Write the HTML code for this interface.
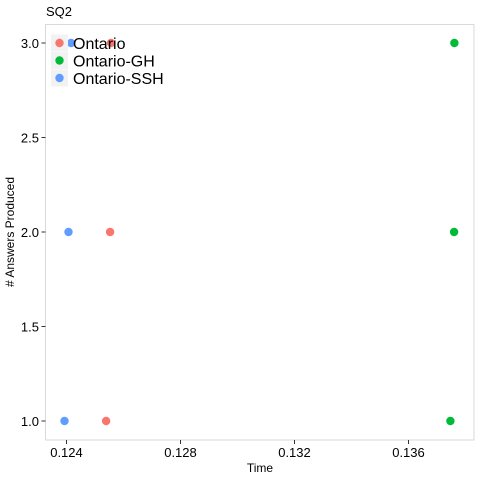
<!DOCTYPE html>
<html><head><meta charset="utf-8"><style>
body{margin:0;background:#fff;}
svg text{font-family:"Liberation Sans",sans-serif;}
</style></head><body>
<svg id="chart" width="480" height="480" xmlns="http://www.w3.org/2000/svg">
<text x="46" y="16" font-size="13" fill="#000">SQ2</text>
<rect x="45.5" y="24.5" width="428.5" height="415.5" fill="#fff" stroke="#d9d9d9"/>
<g id="axes"></g>
<g id="points"></g>
<text x="260" y="472" font-size="12" text-anchor="middle" fill="#000">Time</text>
<text transform="translate(14,232) rotate(-90)" font-size="12" text-anchor="middle" fill="#000"># Answers Produced</text>
<g id="legend"></g>
</svg>
<script>
const seriesNames=["Ontario","Ontario-GH","Ontario-SSH"];
const colors=["#F8766D","#00BA38","#619CFF"];
const xOntario=[0.12539,0.12553,0.12556];
const yOntario=[1,2,3];
const xGH=[0.13747,0.13760,0.13761];
const yGH=[1,2,3];
const xSSH=[0.12393,0.12407,0.12416];
const ySSH=[1,2,3];
const xTicks=[0.124,0.128,0.132,0.136];
const xTickLabels=["0.124","0.128","0.132","0.136"];
const yTicks=[1,1.5,2,2.5,3];
const yTickLabels=["1.0","1.5","2.0","2.5","3.0"];

const NS="http://www.w3.org/2000/svg";
function xs(v){return 66.5+(v-0.124)*28500;}
function ys(v){return 421-(v-1)*189;}
function mk(tag,attrs,parent){const e=document.createElementNS(NS,tag);for(const k in attrs)e.setAttribute(k,attrs[k]);parent.appendChild(e);return e;}
const ax=document.getElementById('axes');
xTicks.forEach((t,i)=>{
  const l=mk('line',{x1:xs(t),x2:xs(t),y1:440,y2:444,stroke:'#333'},ax);
  
  
  const tx=mk('text',{x:xs(t),y:457,'font-size':13,'text-anchor':'middle',fill:'#000'},ax);
  tx.textContent=xTickLabels[i];
  
  
});
yTicks.forEach((t,i)=>{
  const l=mk('line',{x1:41.5,x2:45.5,y1:ys(t),y2:ys(t),stroke:'#333'},ax);
  
  
  const tx=mk('text',{x:39,y:ys(t)+5,'font-size':13,'text-anchor':'end',fill:'#000'},ax);
  tx.textContent=yTickLabels[i];
  
  
});
const pg=document.getElementById('points');
[[xOntario,yOntario],[xGH,yGH],[xSSH,ySSH]].forEach((s,si)=>{
  s[0].forEach((xv,i)=>{
    const c=mk('circle',{cx:xs(xv),cy:ys(s[1][i]),r:4.2,fill:colors[si]},pg);
    
    
  });
});
const lg=document.getElementById('legend');
seriesNames.forEach((n,i)=>{
  const y=43+i*17.5;
  const r=mk('rect',{x:51,y:y-8.5,width:17,height:17,fill:'#f2f2f2'},lg);
  
  
  const c=mk('circle',{cx:59.5,cy:y,r:4.2,fill:colors[i]},lg);
  
  
  const t=mk('text',{x:73,y:y+6,'font-size':16,fill:'#000'},lg);
  t.textContent=n;
  
  
});
</script>
</body></html>
